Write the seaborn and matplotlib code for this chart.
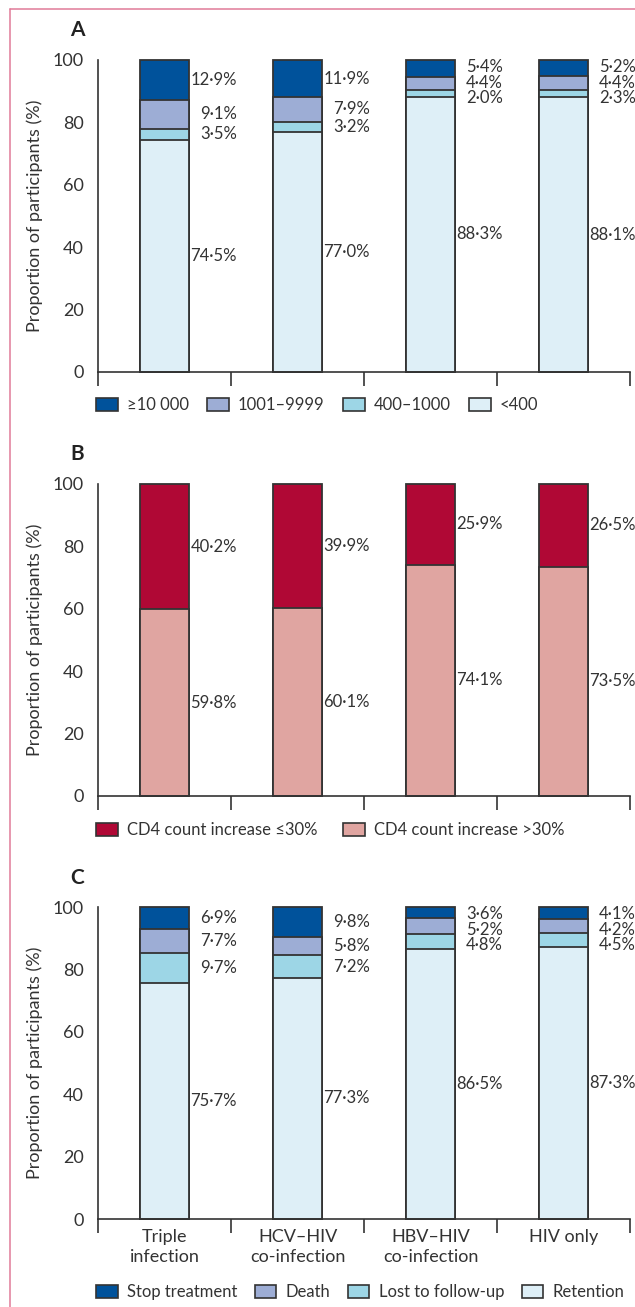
import numpy as np
import pandas as pd
import matplotlib
matplotlib.use("Agg")
import matplotlib.pyplot as plt
from matplotlib.lines import Line2D
from matplotlib.patches import Patch
import seaborn as sns

# ---- data -------------------------------------------------------------
groups = ["Triple infection", "HCV–HIV co-infection", "HBV–HIV co-infection", "HIV only"]
group_ticklabels = ["Triple\ninfection", "HCV–HIV\nco-infection", "HBV–HIV\nco-infection", "HIV only"]

# Panel A: viral load (copies/mL), bottom to top
vl_names = ["<400", "400–1000", "1001–9999", "≥10 000"]
vl_lt400 = [74.5, 77.0, 88.3, 88.1]
vl_400_1000 = [3.5, 3.2, 2.0, 2.3]
vl_1001_9999 = [9.1, 7.9, 4.4, 4.4]
vl_ge10000 = [12.9, 11.9, 5.4, 5.2]

# Panel B: CD4 count change, bottom to top
cd4_names = ["CD4 count increase >30%", "CD4 count increase ≤30%"]
cd4_gt30 = [59.8, 60.1, 74.1, 73.5]
cd4_le30 = [40.2, 39.9, 25.9, 26.5]

# Panel C: treatment outcome, bottom to top
out_names = ["Retention", "Lost to follow-up", "Death", "Stop treatment"]
out_retention = [75.7, 77.3, 86.5, 87.3]
out_lost = [9.7, 7.2, 4.8, 4.5]
out_death = [7.7, 5.8, 5.2, 4.2]
out_stop = [6.9, 9.8, 3.6, 4.1]

# ---- style ------------------------------------------------------------
sns.set_theme(style="white")
plt.rcParams["font.family"] = ["Lato", "DejaVu Sans"]
TXT = "#333333"
EDGE = "#333333"
FS = 13        # axis text
FS_VAL = 12    # value labels
FS_LEG = 12    # legend entries
plt.rcParams.update({
    "text.color": TXT, "axes.labelcolor": TXT,
    "xtick.color": EDGE, "ytick.color": EDGE,
    "xtick.labelcolor": TXT, "ytick.labelcolor": TXT,
    "axes.edgecolor": EDGE,
})

blues = ["#deeff7", "#9dd6e6", "#9dadd5", "#00529b"]
reds = ["#e0a5a1", "#b00835"]

W, H = 635, 1307
fig = plt.figure(figsize=(W / 100, H / 100), dpi=100)

left = 98 / W
width = 532 / W
ax_h = 312 / H
bottoms_px = [372, 796, 1219]   # zero line of each panel, from top


def fmt(v):
    return f"{v:.1f}".replace(".", "·") + "%"


def spread(centers, gap=4.9, top=97.6):
    pos = list(centers)
    for _ in range(300):
        for i in range(len(pos) - 1):
            d = pos[i] - pos[i + 1]
            if d < gap:
                s = (gap - d) / 2
                pos[i] += s
                pos[i + 1] -= s
        if pos[0] > top:
            pos[0] = top
    return pos


def stacked_panel(ax, layers, names, colors):
    # layers listed bottom to top; draw cumulative totals from top down
    cum = np.cumsum(np.array(layers), axis=0)
    for k in range(len(layers) - 1, -1, -1):
        df = pd.DataFrame({"group": groups, "value": cum[k]})
        sns.barplot(data=df, x="group", y="value", order=groups, ax=ax,
                    color=colors[k], saturation=1, width=0.37,
                    edgecolor=EDGE, linewidth=1.3, errorbar=None)
    for p in ax.patches:
        p.set_clip_on(False)
    # value labels, right-aligned beside each bar
    for j in range(len(groups)):
        vals = [layers[k][j] for k in range(len(layers))]
        lows = [cum[k][j] - vals[k] for k in range(len(layers))]
        centers = [lows[k] + vals[k] / 2 for k in range(len(layers))][::-1]
        texts = [fmt(v) for v in vals][::-1]
        ys = spread(centers)
        for t, y in zip(texts, ys):
            ax.text(j + 0.545, y, t, ha="right", va="center", fontsize=FS_VAL,
                    color=TXT)

    ax.set_xlim(-0.5, 3.5)
    ax.set_ylim(0, 100)
    ax.set_yticks([0, 20, 40, 60, 80, 100])
    ax.tick_params(axis="y", length=7, width=1.2, labelsize=FS, pad=3, direction="out")
    ax.set_xticks(range(4))
    ax.set_xticks([-0.5, 0.5, 1.5, 2.5, 3.5], minor=True)
    ax.tick_params(axis="x", which="major", length=0, pad=7, labelsize=FS)
    ax.tick_params(axis="x", which="minor", length=10, width=1.2, direction="out",
                   bottom=True)
    ax.set_xlabel("")
    ax.set_ylabel("")
    for s in ["top", "right"]:
        ax.spines[s].set_visible(False)
    for s in ["left", "bottom"]:
        ax.spines[s].set_linewidth(1.2)
        ax.spines[s].set_color(EDGE)
    ax.grid(False)


panels = [
    ([vl_lt400, vl_400_1000, vl_1001_9999, vl_ge10000], vl_names, blues, "A"),
    ([cd4_gt30, cd4_le30], cd4_names, reds, "B"),
    ([out_retention, out_lost, out_death, out_stop], out_names, blues, "C"),
]
legend_y = [405, 830, 1292]
letter_y = [30, 454, 878]
legend_spacing = [1.1, 1.55, 1.05]

for i, (layers, names, colors, letter) in enumerate(panels):
    b = bottoms_px[i]
    ax = fig.add_axes([left, 1 - b / H, width, ax_h])
    stacked_panel(ax, layers, names, colors)
    if i < 2:
        ax.set_xticklabels([])
    else:
        ax.set_xticklabels(group_ticklabels, linespacing=1.3)
    fig.text(35 / W, 1 - (b - 156) / H, "Proportion of participants (%)",
             rotation=90, ha="center", va="center", fontsize=FS, color=TXT)
    fig.text(70 / W, 1 - letter_y[i] / H, letter, ha="left", va="center",
             fontsize=15, fontweight="bold", color="#222222")
    # legend, top layer first
    handles = [Patch(facecolor=c, edgecolor=EDGE, linewidth=1.2, label=n)
               for n, c in zip(names[::-1], colors[::-1])]
    fig.legend(handles=handles, loc="center left", ncol=len(handles),
               bbox_to_anchor=(96 / W, 1 - legend_y[i] / H), frameon=False,
               fontsize=FS_LEG, handlelength=1.3, handleheight=0.8,
               handletextpad=0.55, columnspacing=legend_spacing[i],
               borderpad=0, borderaxespad=0)

# thin rule framing the figure
frame = "#e07a98"
fig.add_artist(Line2D([10 / W, 10 / W], [0, 1 - 9 / H], color=frame, lw=1.1,
                      transform=fig.transFigure))
fig.add_artist(Line2D([10 / W, 1], [1 - 9 / H, 1 - 9 / H], color=frame, lw=1.1,
                      transform=fig.transFigure))

fig.savefig("out.png", dpi=100)
